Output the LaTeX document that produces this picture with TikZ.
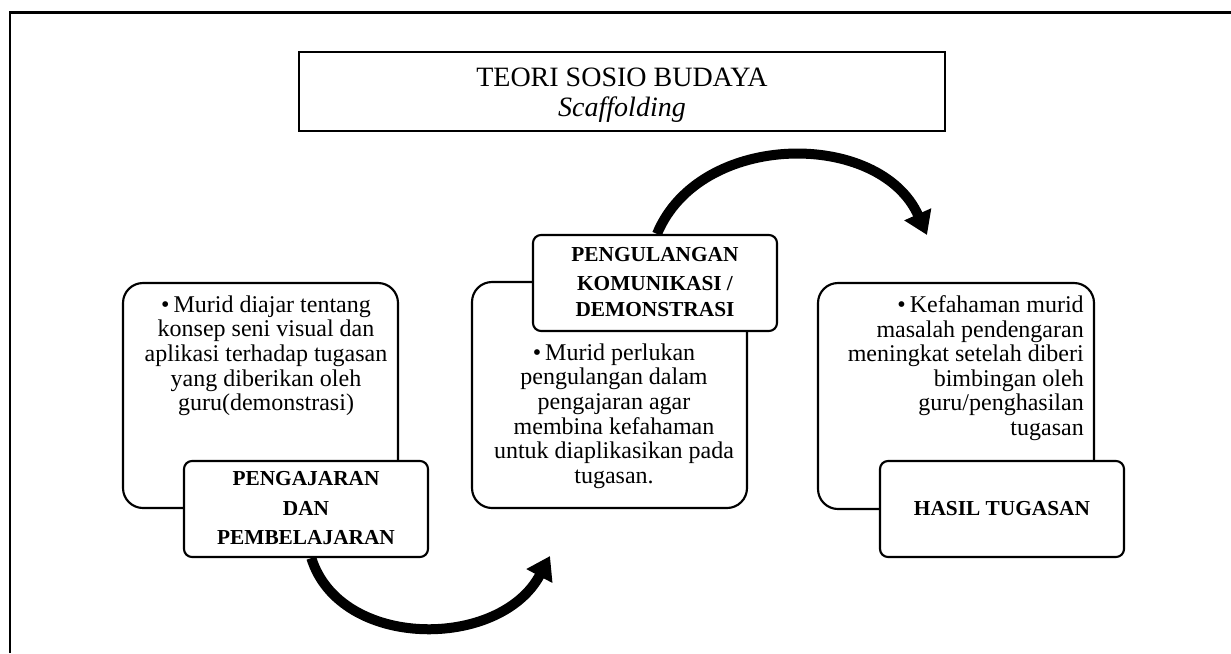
\documentclass[tikz,border=0pt]{standalone}
\usepackage{fontspec}
\setmainfont{Liberation Serif}
\usetikzlibrary{arrows.meta,backgrounds}

\tikzset{
  textbox/.style={draw, line width=1.6pt, rounded corners=15pt, fill=white},
  labelbox/.style={draw, line width=1.6pt, rounded corners=6pt, fill=white},
  bodytext/.style={font=\fontsize{18}{18.4}\selectfont, inner sep=0pt},
  labeltext/.style={font=\fontsize{16}{19}\selectfont\bfseries, align=center, inner sep=0pt},
  bigarrow/.style={line width=7.5pt, -{Triangle[length=17pt,width=21pt]}}
}

\begin{document}
\begin{tikzpicture}[x=0.75pt, y=-0.75pt]
\useasboundingbox (0,0) rectangle (1231,653);

% frame
\draw[line width=2pt] (10,653) -- (10,12.5) -- (1231,12.5);

% title
\node[draw, line width=0.9pt, minimum width=484.5pt, minimum height=59.25pt] (title) at (622,91.5) {};
\node[font=\fontsize{21}{22}\selectfont, align=center, inner sep=0pt, anchor=north] (titletext) at (622,68)
  {TEORI SOSIO BUDAYA\\ \textit{Scaffolding}};

% text boxes
\node[textbox, minimum width=206.25pt, minimum height=168.75pt] (boxA) at (260.5,395.5) {};
\node[textbox, minimum width=206.25pt, minimum height=169.5pt] (boxB) at (609.5,395) {};
\node[textbox, minimum width=207pt, minimum height=169.5pt] (boxC) at (956,396) {};

\node[bodytext, align=center, anchor=north] (textA) at (266,295.5)
  {\textbullet\,Murid diajar tentang\\ konsep seni visual dan\\ aplikasi terhadap tugasan\\ yang diberikan oleh\\ guru(demonstrasi)};
\node[bodytext, align=center, anchor=north] (textB) at (614,343.5)
  {\textbullet\,Murid perlukan\\ pengulangan dalam\\ pengajaran agar\\ membina kefahaman\\ untuk diaplikasikan pada\\ tugasan.};
\node[bodytext, align=right, anchor=north east] (textC) at (1084,295.5)
  {\textbullet\,Kefahaman murid\\ masalah pendengaran\\ meningkat setelah diberi\\ bimbingan oleh\\ guru/penghasilan\\ tugasan};

% labels
\node[labelbox, minimum width=183pt, minimum height=72pt] (lblA) at (306,509) {};
\node[labelbox, minimum width=183pt, minimum height=72pt] (lblB) at (655,283) {};
\node[labelbox, minimum width=183pt, minimum height=72pt] (lblC) at (1002,509) {};

\node[labeltext, anchor=north] (lblAtext) at (306,471.5)
  {PENGAJARAN\\[3pt] DAN\\[3pt] PEMBELAJARAN};
\node[labeltext, anchor=north] (lblBtext) at (655,247)
  {PENGULANGAN\\[3pt] KOMUNIKASI /\\ DEMONSTRASI};
\node[labeltext, anchor=base] (lblCtext) at (1002,515) {HASIL TUGASAN};

% arrows
\coordinate (tipA) at (550,556);
\coordinate (tipB) at (927,235);
\begin{pgfonlayer}{background}
\draw[bigarrow] ([xshift=4pt]lblA.south) .. controls (340,650) and (500,650) .. (tipA);
\draw[bigarrow] ([xshift=1.5pt]lblB.north) .. controls (700,130) and (880,130) .. (tipB);
\end{pgfonlayer}

\end{tikzpicture}
\end{document}
